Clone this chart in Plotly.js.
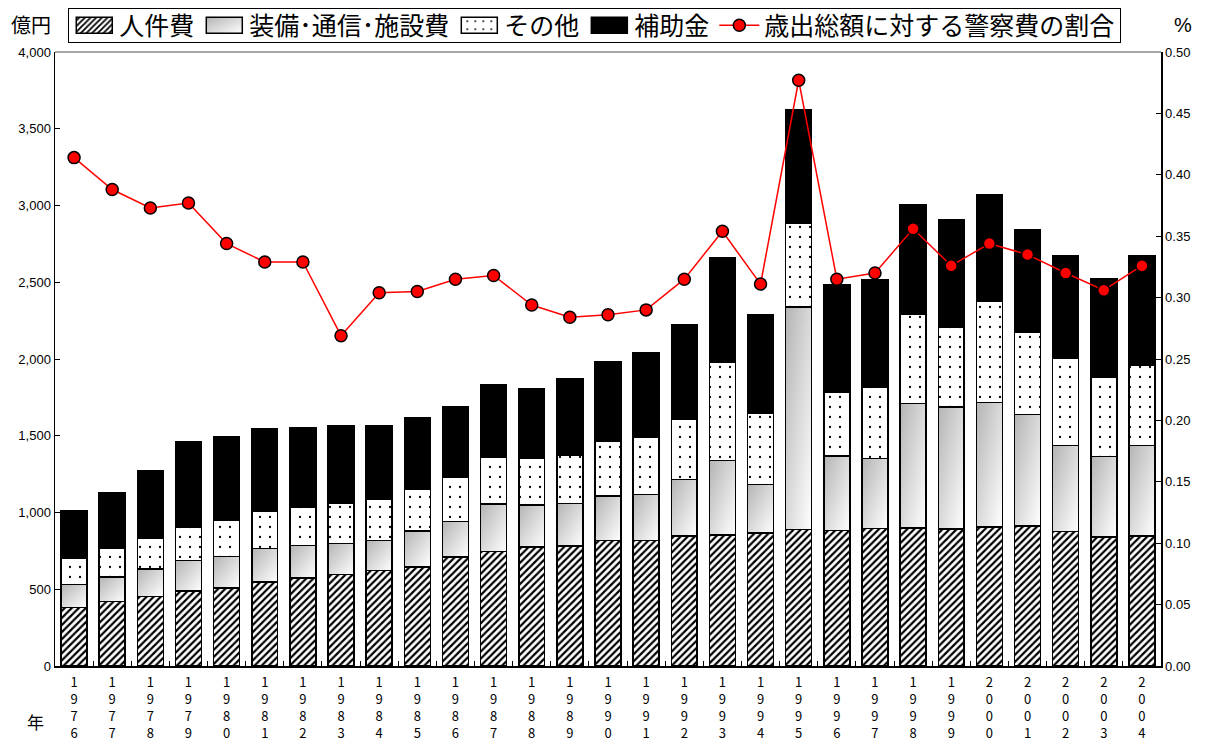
<!DOCTYPE html>
<html>
<head>
<meta charset="utf-8">
<script src="https://cdn.plot.ly/plotly-3.0.1.min.js"></script>
<style>
  html, body { margin: 0; padding: 0; background: #fff; }
  #chart { width: 1205px; height: 742px; }
</style>
</head>
<body>
<div id="chart"></div>
<script>
// 警察費の内訳（億円）と歳出総額に対する割合（%）
const years = ['1976','1977','1978','1979','1980','1981','1982','1983','1984','1985',
               '1986','1987','1988','1989','1990','1991','1992','1993','1994','1995',
               '1996','1997','1998','1999','2000','2001','2002','2003','2004'];

// x軸ラベル：数字を縦に並べる
const yearLabels = years.map(y => y.split('').join('<br>'));

const personnel = [381, 420, 453, 489, 509, 548, 572, 595, 622, 646,
                   711, 745, 774, 781, 819, 819, 847, 852, 865, 890,
                   882, 895, 898, 893, 904, 913, 877, 839, 848];
const equipment = [151, 159, 180, 198, 205, 219, 213, 202, 197, 234,
                   231, 310, 274, 278, 287, 297, 367, 487, 317, 1449,
                   487, 457, 812, 795, 813, 725, 559, 525, 588];
const others    = [170, 188, 197, 215, 233, 243, 252, 262, 269, 271,
                   285, 305, 305, 317, 359, 373, 394, 642, 467, 543,
                   417, 464, 579, 518, 657, 534, 568, 519, 523];
const subsidies = [308, 360, 440, 557, 545, 534, 518, 505, 478, 467,
                   461, 473, 456, 493, 519, 555, 614, 678, 639, 741,
                   698, 698, 716, 700, 696, 669, 671, 642, 716];
const shareOfTotal = [0.414, 0.388, 0.373, 0.377, 0.344, 0.329, 0.329, 0.269, 0.304, 0.305,
                      0.315, 0.318, 0.294, 0.284, 0.286, 0.290, 0.315, 0.354, 0.311, 0.477,
                      0.315, 0.320, 0.356, 0.326, 0.344, 0.335, 0.320, 0.306, 0.326];

const seriesNames = ['人件費', '装備･通信･施設費', 'その他', '補助金', '歳出総額に対する警察費の割合'];

const jpFont = '"Noto Sans CJK JP", "Noto Sans", sans-serif';
const numFont = '"Liberation Sans", Arial, sans-serif';
const outline = { color: '#000', width: 1.5 };

const traces = [
  {
    type: 'bar', name: seriesNames[0], x: yearLabels, y: personnel,
    marker: { color: '#ffffff', line: outline,
              pattern: { shape: '/', fgcolor: '#000', bgcolor: '#fff', size: 5, solidity: 0.45 } }
  },
  {
    type: 'bar', name: seriesNames[1], x: yearLabels, y: equipment,
    marker: { color: '#dedede', line: outline }
  },
  {
    type: 'bar', name: seriesNames[2], x: yearLabels, y: others,
    marker: { color: '#ffffff', line: outline,
              pattern: { shape: '.', fgcolor: '#000', bgcolor: '#fff', size: 10, solidity: 0.04 } }
  },
  {
    type: 'bar', name: seriesNames[3], x: yearLabels, y: subsidies,
    marker: { color: '#000000', line: outline }
  },
  {
    type: 'scatter', mode: 'lines+markers', name: seriesNames[4], x: yearLabels, y: shareOfTotal,
    yaxis: 'y2',
    line: { color: '#ff0000', width: 1.5 },
    marker: { color: '#ff0000', size: 12, line: { color: '#000', width: 1.5 } }
  }
];

const layout = {
  width: 1205, height: 742,
  margin: { l: 55, r: 44, t: 52, b: 76, autoexpand: false },
  paper_bgcolor: '#fff', plot_bgcolor: '#fff',
  barmode: 'stack', bargap: 0.32,
  showlegend: true,
  legend: {
    orientation: 'h', traceorder: 'normal',
    xref: 'paper', x: 0.012, xanchor: 'left',
    yref: 'container', y: 0.998, yanchor: 'top',
    bordercolor: '#000', borderwidth: 1, bgcolor: '#fff',
    font: { family: jpFont, size: 25, color: '#000' },
    itemwidth: 40, tracegroupgap: 0
  },
  xaxis: {
    type: 'category', range: [-0.5, years.length - 0.5],
    showline: true, linecolor: '#000', linewidth: 1.5,
    ticks: 'inside', tickson: 'boundaries', ticklen: 5, tickcolor: '#000',
    tickfont: { family: jpFont, size: 13, color: '#000' },
    tickangle: 0, showgrid: false, zeroline: false,
    ticklabelstandoff: 4
  },
  yaxis: {
    range: [0, 4000], dtick: 500, tickformat: ',d',
    showline: true, linecolor: '#000', linewidth: 1.5,
    ticks: 'inside', ticklen: 5, tickcolor: '#000',
    tickfont: { family: numFont, size: 13, color: '#000' },
    showgrid: false, zeroline: false
  },
  yaxis2: {
    overlaying: 'y', side: 'right',
    range: [0, 0.5], dtick: 0.05, tickformat: '.2f',
    showline: true, linecolor: '#000', linewidth: 1.5,
    ticks: 'inside', ticklen: 5, tickcolor: '#000',
    tickfont: { family: numFont, size: 13, color: '#000' },
    showgrid: false, zeroline: false
  },
  shapes: [
    { type: 'line', xref: 'paper', yref: 'paper', x0: 0, x1: 1, y0: 1, y1: 1,
      line: { color: '#888', width: 1.5 } }
  ],
  annotations: [
    { text: '億円', xref: 'paper', yref: 'paper', x: -0.022, y: 1.044,
      xanchor: 'center', yanchor: 'middle', showarrow: false,
      font: { family: jpFont, size: 20, color: '#000' } },
    { text: '%', xref: 'paper', yref: 'paper', x: 1.02, y: 1.044,
      xanchor: 'center', yanchor: 'middle', showarrow: false,
      font: { family: numFont, size: 20, color: '#000' } },
    { text: '年', xref: 'paper', yref: 'paper', x: -0.018, y: -0.091,
      xanchor: 'center', yanchor: 'middle', showarrow: false,
      font: { family: jpFont, size: 17, color: '#000' } }
  ]
};

// 装備･通信･施設費の棒にグレーのグラデーションを付け、凡例の見本を横長にし、枠を詰める
function applyStyling(gd) {
  const svg = gd.querySelector('.main-svg');
  if (!svg) return;
  const ns = 'http://www.w3.org/2000/svg';
  let defs = svg.querySelector('defs');
  if (!defs) {
    defs = document.createElementNS(ns, 'defs');
    svg.insertBefore(defs, svg.firstChild);
  }
  if (!svg.querySelector('#equipGrad')) {
    const g = document.createElementNS(ns, 'linearGradient');
    g.setAttribute('id', 'equipGrad');
    g.setAttribute('x1', '0'); g.setAttribute('y1', '0');
    g.setAttribute('x2', '1'); g.setAttribute('y2', '1');
    [['0%', '#b4b4b4'], ['100%', '#ffffff']].forEach(([off, col]) => {
      const s = document.createElementNS(ns, 'stop');
      s.setAttribute('offset', off);
      s.setAttribute('stop-color', col);
      g.appendChild(s);
    });
    defs.appendChild(g);
  }
  const barTraces = gd.querySelectorAll('.barlayer .trace');
  if (barTraces[1]) {
    barTraces[1].querySelectorAll('path').forEach(p => { p.style.fill = 'url(#equipGrad)'; });
  }
  const legendTraces = gd.querySelectorAll('.legend .traces');
  legendTraces.forEach((lt, i) => {
    if (i > 3) return;
    lt.querySelectorAll('.legendpoints path').forEach(p => {
      p.setAttribute('d', 'M-18,-8H18V8H-18Z');
      if (i === 1) p.style.fill = 'url(#equipGrad)';
    });
  });
  const bg = gd.querySelector('.legend .bg');
  if (bg && !bg.dataset.trimmed) {
    const h = parseFloat(bg.getAttribute('height'));
    const y = parseFloat(bg.getAttribute('y') || '0');
    const trim = Math.max(0, (h - 34) / 2);
    bg.setAttribute('y', y + trim);
    bg.setAttribute('height', h - 2 * trim);
    bg.dataset.trimmed = '1';
  }
}

const gd = document.getElementById('chart');
Plotly.newPlot(gd, traces, layout, { staticPlot: true, displayModeBar: false }).then(() => {
  applyStyling(gd);
  gd.on('plotly_afterplot', () => applyStyling(gd));
});
</script>
</body>
</html>
